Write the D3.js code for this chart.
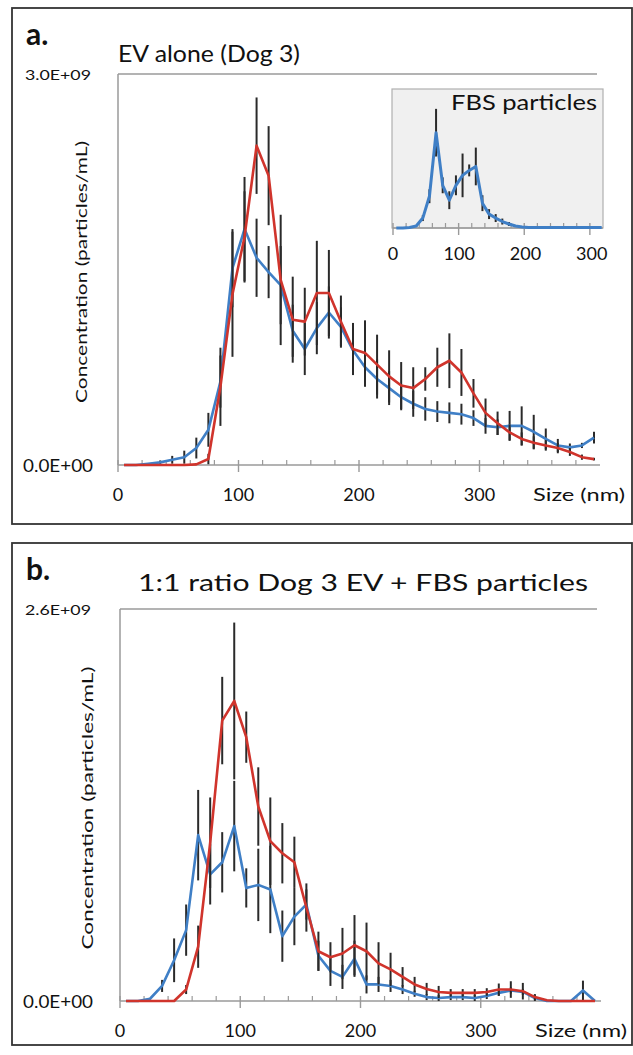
<!DOCTYPE html>
<html>
<head>
<meta charset="utf-8">
<script src="https://cdn.jsdelivr.net/npm/d3@7"></script>
<style>
  body { margin: 0; background: #fff; }
  text { font-family: Lato, "Open Sans", sans-serif; fill: #111; }
</style>
</head>
<body>
<div class="canvas"></div>
<script>
// bin centres (nm)
const sizeNm = [5,15,25,35,45,55,65,75,85,95,105,115,125,135,145,155,165,175,185,195,
  205,215,225,235,245,255,265,275,285,295,305,315,325,335,345,355,365,375,385,395];
const insetSizeNm = [5,15,25,35,45,55,65,75,85,95,105,115,125,135,145,155,
  165,175,185,195,205,215,225,235,245,255,265,275,285,295,305,315];
const xTicks = [0, 100, 200, 300];

// panel a - EV alone (values in 1e9 particles/mL)
const aRed = [0,0,0,0,0,0,0.005,0.046,0.60,1.31, 1.75,2.45,2.22,1.42,1.115,1.10,1.32,1.32,1.10,0.89,
  0.86,0.77,0.68,0.61,0.59,0.66,0.75,0.80,0.71,0.55, 0.40,0.32,0.25,0.20,0.17,0.15,0.13,0.10,0.06,0.045];
const aRedErr = [0,0,0,0,0,0,0.01,0.04,0.3,0.48, 0.35,0.37,0.38,0.5,0.33,0.26,0.4,0.33,0.2,0.2,
  0.25,0.23,0.2,0.18,0.16,0.09,0.15,0.21,0.18,0.11, 0.11,0.09,0.06,0.05,0.05,0.04,0.04,0.03,0.02,0.01];
const aBlue = [0,0,0.01,0.02,0.04,0.06,0.13,0.27,0.64,1.51, 1.81,1.59,1.48,1.38,1.03,0.89,1.05,1.17,1.06,0.88,
  0.75,0.66,0.59,0.52,0.47,0.43,0.41,0.40,0.39,0.36, 0.30,0.29,0.30,0.30,0.255,0.20,0.15,0.135,0.15,0.21];
const aBlueErr = [0,0,0,0.015,0.03,0.05,0.08,0.13,0.2,0.3, 0.4,0.3,0.2,0.3,0.2,0.2,0.2,0.2,0.15,0.15,
  0.15,0.15,0.13,0.1,0.1,0.09,0.08,0.08,0.08,0.06, 0.06,0.06,0.115,0.15,0.13,0.08,0.05,0.03,0.02,0.045];

// inset - FBS particles (relative units)
const fbs = [0,0,0.005,0.02,0.1,0.32,0.96,0.43,0.28,0.43, 0.53,0.58,0.62,0.25,0.14,0.10,0.065,0.04,0.02,0.01,
  0.005,0.005,0.005,0.005,0.005,0.005,0.005,0.005,0.005,0.005, 0.005,0.005];
const fbsErr = [0,0,0,0.01,0.03,0.07,0.24,0.08,0.09,0.1, 0.22,0.06,0.19,0.08,0.05,0.04,0.03,0.02,0.01,0.005,
  0,0,0,0,0,0,0,0,0,0, 0,0];

// panel b - 1:1 mix
const bRed = [0,0,0,0,0,0.076,0.36,1.05,1.86,1.99, 1.75,1.29,1.06,0.98,0.92,0.62,0.33,0.29,0.315,0.37,
  0.33,0.25,0.21,0.16,0.11,0.08,0.06,0.054,0.054,0.054, 0.06,0.076,0.076,0.065,0.026,0.005,0,0,0,0];
const bRedErr = [0,0,0,0,0,0.03,0.14,0.3,0.29,0.52, 0.17,0.26,0.29,0.2,0.17,0.16,0.13,0.1,0.17,0.2,
  0.19,0.14,0.11,0.065,0.05,0.04,0.04,0.025,0.025,0.025, 0.025,0.04,0.055,0.055,0.02,0,0,0,0,0];
const bBlue = [0,0,0.015,0.10,0.27,0.47,1.10,0.84,0.92,1.16, 0.75,0.77,0.74,0.43,0.56,0.64,0.30,0.2,0.16,0.28,
  0.11,0.11,0.10,0.076,0.048,0.026,0.02,0.026,0.026,0.02, 0.033,0.054,0.07,0.06,0.02,0,0,0,0.07,0];
const bBlueErr = [0,0,0,0.04,0.145,0.17,0.3,0.2,0.2,0.3, 0.13,0.24,0.29,0.17,0.19,0.1,0.1,0.1,0.08,0.12,
  0.06,0.05,0.04,0.03,0.02,0.02,0.02,0.02,0.02,0.02, 0.02,0.02,0.02,0.02,0.02,0,0,0,0.065,0];

const red = '#d0342c';
const blue = '#3f7fc6';
const errColor = '#2a2a2a';
const axisGrey = '#9a9a9a';

const svg = d3.select('.canvas').append('svg')
  .attr('width', 633)
  .attr('height', 1055);

// draws error bars + line for one series
function drawSeries(g, x, y, xs, vals, errs, color, width) {
  const pts = xs.map((s, i) => ({ s, v: vals[i], e: errs[i] }));
  g.append('g').selectAll('line')
    .data(pts.filter(d => d.e > 0))
    .enter().append('line')
      .attr('x1', d => x(d.s)).attr('x2', d => x(d.s))
      .attr('y1', d => y(d.v + d.e)).attr('y2', d => y(Math.max(0, d.v - d.e)))
      .attr('stroke', errColor)
      .attr('stroke-width', 2);
  g.append('path')
    .datum(pts)
    .attr('fill', 'none')
    .attr('stroke', color)
    .attr('stroke-width', width || 2.6)
    .attr('stroke-linejoin', 'round')
    .attr('d', d3.line().x(d => x(d.s)).y(d => y(d.v)));
}

function xAxis(g, x, yPos, majors, minorStep, maxVal) {
  const minors = d3.range(0, maxVal, minorStep).filter(v => v % 100 !== 0);
  g.append('line')
    .attr('x1', x.range()[0]).attr('x2', x.range()[1])
    .attr('y1', yPos).attr('y2', yPos)
    .attr('stroke', axisGrey).attr('stroke-width', 1.5);
  g.append('g').selectAll('line').data(minors).enter().append('line')
    .attr('x1', d => x(d)).attr('x2', d => x(d))
    .attr('y1', yPos - 5).attr('y2', yPos)
    .attr('stroke', axisGrey).attr('stroke-width', 1.2);
  g.append('g').selectAll('line').data(majors).enter().append('line')
    .attr('x1', d => x(d)).attr('x2', d => x(d))
    .attr('y1', yPos - 5).attr('y2', yPos + 7)
    .attr('stroke', axisGrey).attr('stroke-width', 1.4);
}

function drawPanel(cfg) {
  const g = svg.append('g');

  // frame
  g.append('rect')
    .attr('x', cfg.frame[0]).attr('y', cfg.frame[1])
    .attr('width', cfg.frame[2]).attr('height', cfg.frame[3])
    .attr('fill', 'none').attr('stroke', '#333').attr('stroke-width', 1.8);

  const x = d3.scaleLinear().domain([0, 400]).range([cfg.left, cfg.right]);
  const y = d3.scaleLinear().domain([0, cfg.yMax]).range([cfg.bottom, cfg.top]);

  // top gridline + left axis
  g.append('line')
    .attr('x1', cfg.left).attr('x2', cfg.gridEnd)
    .attr('y1', y(cfg.yMax)).attr('y2', y(cfg.yMax))
    .attr('stroke', axisGrey).attr('stroke-width', 1.5);
  g.append('line')
    .attr('x1', cfg.left).attr('x2', cfg.left)
    .attr('y1', y(cfg.yMax)).attr('y2', y(0))
    .attr('stroke', axisGrey).attr('stroke-width', 1.5);

  xAxis(g, x, y(0), xTicks, 20, 400);

  g.append('g').selectAll('text').data(xTicks).enter().append('text')
    .attr('x', d => x(d)).attr('y', y(0) + cfg.labelDy)
    .attr('text-anchor', 'middle')
    .style('font-size', '18px')
    .text(d => d);
  g.append('text')
    .attr('x', cfg.sizeX).attr('y', y(0) + cfg.labelDy)
    .style('font-size', '18px')
    .attr('textLength', 92).attr('lengthAdjust', 'spacingAndGlyphs')
    .text('Size (nm)');

  // y end labels
  g.append('text')
    .attr('x', 25).attr('y', y(cfg.yMax) + 6)
    .style('font-size', '14px')
    .attr('textLength', 66).attr('lengthAdjust', 'spacingAndGlyphs')
    .text(cfg.yMaxLabel);
  g.append('text')
    .attr('x', 23).attr('y', y(0) + 7)
    .style('font-size', '18px')
    .attr('textLength', 70).attr('lengthAdjust', 'spacingAndGlyphs')
    .text('0.0E+00');

  // y title
  g.append('text')
    .attr('transform', `translate(${cfg.yTitleX}, ${cfg.yTitleY}) rotate(-90)`)
    .attr('text-anchor', 'middle')
    .style('font-size', '16px')
    .attr('textLength', cfg.yTitleLen).attr('lengthAdjust', 'spacingAndGlyphs')
    .text('Concentration (particles/mL)');

  // panel letter + title
  g.append('text')
    .attr('x', 26).attr('y', cfg.letterY)
    .style('font-size', '30px')
    .style('font-weight', 'bold')
    .text(cfg.letter);
  g.append('text')
    .attr('x', cfg.titleX).attr('y', cfg.titleY)
    .style('font-size', '23px')
    .attr('textLength', cfg.titleLen).attr('lengthAdjust', 'spacingAndGlyphs')
    .text(cfg.title);

  const plot = g.append('g');
  drawSeries(plot, x, y, sizeNm, cfg.blue, cfg.blueErr, blue);
  drawSeries(plot, x, y, sizeNm, cfg.red, cfg.redErr, red);
  return g;
}

drawPanel({
  frame: [12, 8, 620, 516],
  left: 118, right: 600, top: 74, bottom: 465, gridEnd: 597,
  yMax: 3, yMaxLabel: '3.0E+09',
  labelDy: 36, sizeX: 533,
  yTitleX: 87, yTitleY: 272, yTitleLen: 262,
  letter: 'a.', letterY: 45,
  title: 'EV alone (Dog 3)', titleX: 118, titleY: 62, titleLen: 182,
  red: aRed, redErr: aRedErr, blue: aBlue, blueErr: aBlueErr
});

drawPanel({
  frame: [12, 543, 620, 502],
  left: 120, right: 601, top: 609, bottom: 1001, gridEnd: 597,
  yMax: 2.6, yMaxLabel: '2.6E+09',
  labelDy: 36, sizeX: 535,
  yTitleX: 93, yTitleY: 808, yTitleLen: 283,
  letter: 'b.', letterY: 580,
  title: '1:1 ratio Dog 3 EV + FBS particles', titleX: 138, titleY: 591, titleLen: 450,
  red: bRed, redErr: bRedErr, blue: bBlue, blueErr: bBlueErr
});

// inset: FBS particles
const inset = svg.append('g');
const ix = d3.scaleLinear().domain([0, 320]).range([393, 605]);
const iy = d3.scaleLinear().domain([0, 1.4]).range([228, 89]);
inset.append('rect')
  .attr('x', 392).attr('y', 89).attr('width', 211).attr('height', 139)
  .attr('fill', '#f0f0f0').attr('stroke', '#b0b0b0').attr('stroke-width', 1.2);
xAxis(inset, d3.scaleLinear().domain([0, 320]).range([393, 603]).clamp(true), 228, [0, 100, 200, 300], 20, 320);
inset.append('g').selectAll('text').data(xTicks).enter().append('text')
  .attr('x', d => ix(d)).attr('y', 260)
  .attr('text-anchor', 'middle')
  .style('font-size', '18px')
  .text(d => d);
inset.append('text')
  .attr('x', 597).attr('y', 110)
  .attr('text-anchor', 'end')
  .style('font-size', '22px')
  .attr('textLength', 146).attr('lengthAdjust', 'spacingAndGlyphs')
  .text('FBS particles');
drawSeries(inset, ix, iy, insetSizeNm, fbs, fbsErr, blue, 3);
</script>
</body>
</html>
